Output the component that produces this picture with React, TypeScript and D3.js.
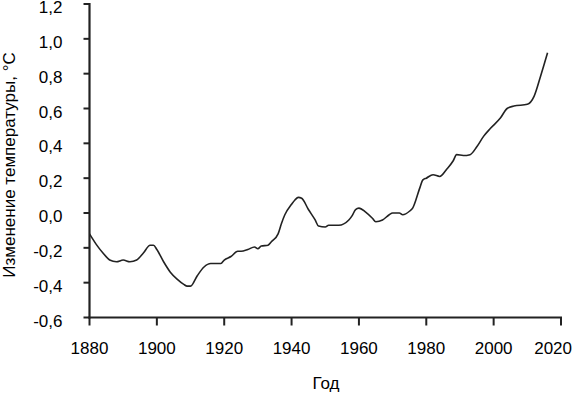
import * as React from 'react';
import * as d3 from 'd3';

// Годы и сглаженная аномалия температуры, °C
const years = [
  1880, 1882, 1884, 1886, 1888, 1890, 1892, 1894, 1896, 1898, 1899, 1900, 1902, 1904, 1906, 1908,
  1909, 1910, 1912, 1914, 1916, 1919, 1920, 1922, 1924, 1925, 1927, 1929, 1930, 1931, 1933, 1934,
  1936, 1937, 1938, 1940, 1941, 1942, 1943, 1945, 1947, 1948, 1950, 1951, 1954, 1957, 1958, 1959,
  1960, 1962, 1964, 1965, 1967, 1969, 1970, 1972, 1973, 1975, 1976, 1977, 1978, 1979, 1980, 1982,
  1984, 1986, 1988, 1989, 1991, 1993, 1995, 1997, 1999, 2002, 2004, 2006, 2010, 2012, 2014, 2016,
];
const anomaly = [
  -0.12, -0.18, -0.23, -0.27, -0.28, -0.27, -0.28, -0.27, -0.23, -0.185, -0.185, -0.21, -0.28, -0.34, -0.38, -0.41,
  -0.42, -0.42, -0.36, -0.31, -0.29, -0.29, -0.27, -0.25, -0.22, -0.22, -0.21, -0.195, -0.205, -0.19, -0.185, -0.165,
  -0.12, -0.06, -0.01, 0.05, 0.075, 0.09, 0.085, 0.02, -0.04, -0.075, -0.08, -0.07, -0.07, -0.04, -0.015, 0.02,
  0.028, 0.005, -0.03, -0.05, -0.04, -0.01, 0.0, 0.0, -0.01, 0.01, 0.03, 0.08, 0.14, 0.19, 0.2, 0.22,
  0.21, 0.25, 0.3, 0.335, 0.33, 0.335, 0.38, 0.44, 0.485, 0.545, 0.6, 0.614, 0.624, 0.67, 0.79, 0.92,
];
const xTicks = [1880, 1900, 1920, 1940, 1960, 1980, 2000, 2020];
const yTicks = [-0.6, -0.4, -0.2, 0, 0.2, 0.4, 0.6, 0.8, 1.0, 1.2];

const W = 573;
const H = 394;
const font = 'Arial, "Liberation Sans", sans-serif';
const ink = '#222';
const fs = 17;

export default function App() {
  const x = d3.scaleLinear().domain([1880, 2020]).range([89.5, 561]);
  const y = d3.scaleLinear().domain([-0.6, 1.2]).range([317.5, 4]);

  const line = d3
    .line<number>()
    .x((_, i) => x(years[i]))
    .y(d => y(d))
    .curve(d3.curveMonotoneX);

  const fmt = (v: number) => v.toFixed(1).replace('.', ',');

  return (
    <svg width={W} height={H} style={{position: 'absolute', left: 0, top: 0, background: '#fff'}}
         fontFamily={font}>
      <path d={line(anomaly) || ''} fill="none" stroke={ink} strokeWidth={1.6} strokeLinejoin="round"/>

      {/* ось Y */}
      <line x1={x(1880)} x2={x(1880)} y1={y(1.2) - 1} y2={y(-0.6) + 1} stroke={ink} strokeWidth={2.2}/>
      {yTicks.map(t => (
        <g key={t}>
          <line x1={x(1880) - 6} x2={x(1880)} y1={y(t)} y2={y(t)} stroke={ink} strokeWidth={2}/>
          <text x={62.5} y={y(t) + 9} textAnchor="end" fontSize={fs} fill="#000">{fmt(t)}</text>
        </g>
      ))}

      {/* ось X */}
      <line x1={x(1880) - 1} x2={x(2020) + 1} y1={y(-0.6)} y2={y(-0.6)} stroke={ink} strokeWidth={2.2}/>
      {xTicks.map((t, i) => {
        const last = i === xTicks.length - 1;
        return (
          <g key={t}>
            <line x1={x(t)} x2={x(t)} y1={y(-0.6)} y2={y(-0.6) + 8} stroke={ink} strokeWidth={2}/>
            <text x={last ? 572 : x(t)} y={353.5} textAnchor={last ? 'end' : 'middle'}
                  fontSize={fs} fill="#000">{t}</text>
          </g>
        );
      })}

      <text x={326} y={389} textAnchor="middle" fontSize={fs} fill="#000">Год</text>
      <text transform="translate(15,165) rotate(-90)" textAnchor="middle" fontSize={fs} fill="#000">
        Изменение температуры, °C
      </text>
    </svg>
  );
}
